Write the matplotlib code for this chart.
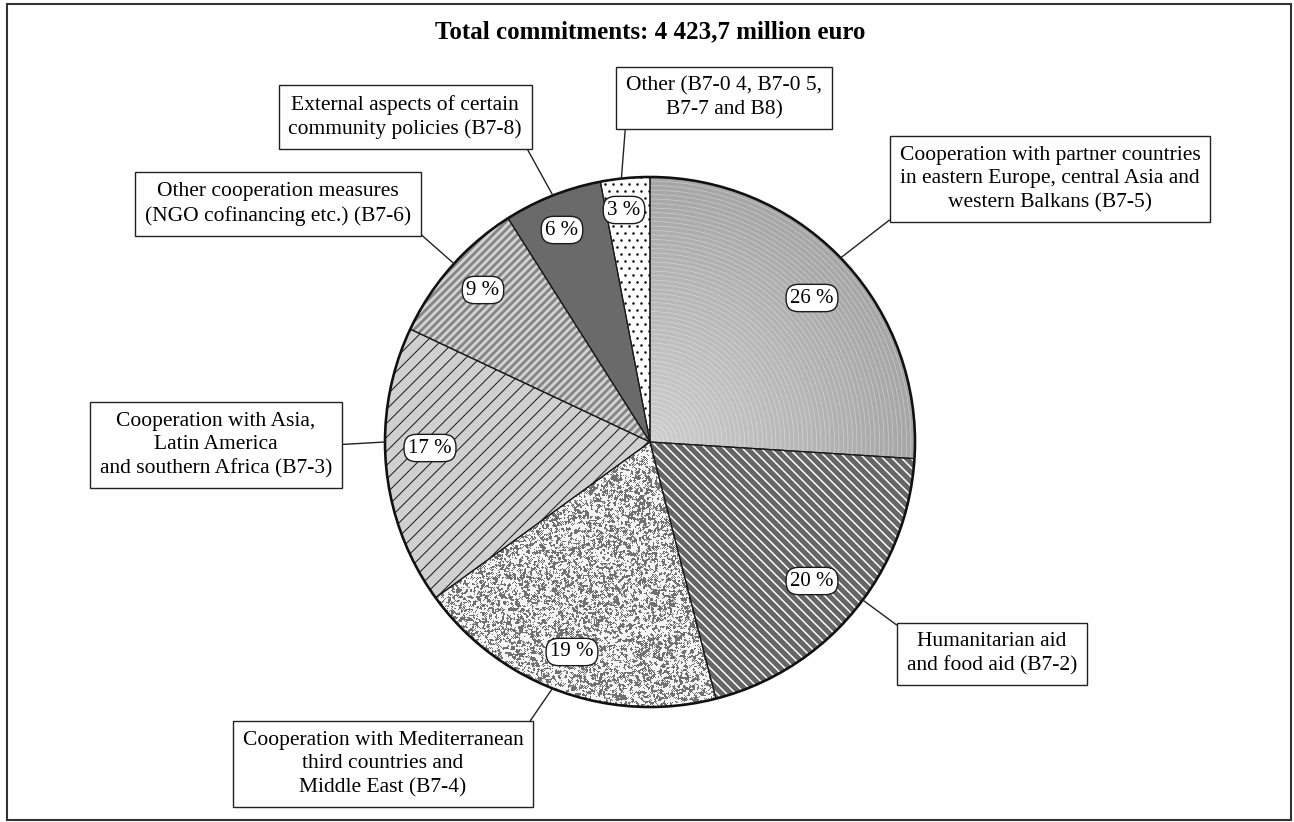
import numpy as np
import matplotlib.pyplot as plt
from matplotlib.patches import Wedge, Circle, Arc, Rectangle
from matplotlib.collections import LineCollection

plt.rcParams["font.family"] = ["Liberation Serif", "DejaVu Serif"]

TITLE = "Total commitments: 4 423,7 million euro"

# shares in %, clockwise from the top
SHARES = [26, 20, 19, 17, 9, 6, 3]
LABELS = [
    "Cooperation with partner countries\nin eastern Europe, central Asia and\nwestern Balkans (B7-5)",
    "Humanitarian aid\nand food aid (B7-2)",
    "Cooperation with Mediterranean\nthird countries and\nMiddle East (B7-4)",
    "Cooperation with Asia,\nLatin America\nand southern Africa (B7-3)",
    "Other cooperation measures\n(NGO cofinancing etc.) (B7-6)",
    "External aspects of certain\ncommunity policies (B7-8)",
    "Other (B7-0 4, B7-0 5,\nB7-7 and B8)",
]

# layout (pixel space, y downwards)
W, H = 1294, 822
CX, CY, R = 650, 442, 265
PCT_POS = [(812, 298), (812, 581), (572, 652), (430, 448), (483, 290), (562, 230), (624, 210)]
BOX_POS = [(1050, 179), (992, 654), (383, 764), (216, 445), (278, 204), (405, 117), (724, 98)]
LEADER_ANGLE = [44, -36.6, -111.6, 180, 137.7, 111.5, 96.2]
LEADER_FROM = [(0, 0), (0, 1), (1, 1), (1, 0.5), (1, 0), (1, 0), (0, 0)]
BASE_COLORS = ["#bdbdbd", "#666666", "#ffffff", "#d0d0d0", "#d3d3d3", "#6a6a6a", "#ffffff"]
PX = 0.72  # points per pixel at dpi 100


def add_stripes(ax, wedge, direction, spacing, color, width_px):
    # parallel lines over the pie, clipped to one wedge
    d = np.array(direction, dtype=float)
    d /= np.linalg.norm(d)
    n = np.array([-d[1], d[0]])
    segs = []
    for k in np.arange(-R * 1.5, R * 1.5, spacing):
        c = np.array([CX, CY]) + n * k
        segs.append([c - d * R * 1.5, c + d * R * 1.5])
    lc = LineCollection(segs, colors=color, linewidths=width_px * PX, zorder=2)
    ax.add_collection(lc)
    lc.set_clip_path(wedge)


def add_dots(ax, wedge, step_x, step_y, **kw):
    xs, ys = [], []
    for j, y in enumerate(np.arange(CY - R, CY + R, step_y)):
        off = step_x / 2 if j % 2 else 0
        for x in np.arange(CX - R + off, CX + R, step_x):
            xs.append(x)
            ys.append(y)
    sc = ax.scatter(xs, ys, zorder=2, **kw)
    sc.set_clip_path(wedge)


def add_speckle(ax, wedge):
    # fine grey squiggle texture from a fixed hash pattern, lightly blurred and thresholded
    yy, xx = np.mgrid[0:2 * R, 0:2 * R].astype(float)
    h = np.sin(xx * 12.9898 + yy * 78.233) * 43758.5453
    h = h - np.floor(h)
    blur = h.copy()
    for dx, dy in ((1, 0), (-1, 0), (0, 1), (0, -1)):
        blur += np.roll(np.roll(h, dx, axis=1), dy, axis=0)
    blur /= 5
    tex = np.where(blur > 0.53, 0.44, 0.96)
    im = ax.imshow(tex, cmap="gray", vmin=0, vmax=1, interpolation="nearest",
                   extent=(CX - R, CX + R, CY + R, CY - R), zorder=2)
    im.set_clip_path(wedge)


fig = plt.figure(figsize=(W / 100, H / 100), dpi=100)
ax = fig.add_axes([0, 0, 1, 1])

wedges, _ = ax.pie(
    SHARES,
    radius=R,
    center=(CX, CY),
    startangle=-90,
    counterclock=True,
    colors=BASE_COLORS,
    wedgeprops={"linewidth": 0},
    frame=False,
)

# 26 %: radial grey gradient with thin white rings
w0 = wedges[0]
for r in np.linspace(R, 3, 70):
    level = 0.81 - 0.16 * (r / R)
    ax.add_patch(Wedge((CX, CY), r, w0.theta1, w0.theta2, facecolor=str(level), linewidth=0, zorder=2))
for r in np.arange(4.5, R, 4.5):
    ax.add_patch(Arc((CX, CY), 2 * r, 2 * r, theta1=w0.theta1, theta2=w0.theta2,
                     color="white", linewidth=0.4, alpha=0.5, zorder=3))

# 20 %: dark grey with white "\" lines
add_stripes(ax, wedges[1], (1, 1), 6.6, "white", 1.5)

# 19 %: grey squiggle texture
add_speckle(ax, wedges[2])

# 17 %: light grey with black "/" lines
add_stripes(ax, wedges[3], (1, -1), 9.9, "#1a1a1a", 1.0)

# 9 %: light grey with mid grey "/" stripes
add_stripes(ax, wedges[4], (1, -1), 5.6, "#858585", 2.8)

# 3 %: black dots on white
add_dots(ax, wedges[6], 8, 7, s=3.4, color="#111111", linewidths=0)

# slice borders and outer rim
for w in wedges:
    ax.add_patch(Wedge((CX, CY), R, w.theta1, w.theta2, facecolor="none",
                       edgecolor="#1a1a1a", linewidth=1.2 * PX, zorder=4))
ax.add_patch(Circle((CX, CY), R, fill=False, edgecolor="#111111", linewidth=2.6 * PX, zorder=5))

# percentage tags
for value, (x, y) in zip(SHARES, PCT_POS):
    ax.text(x, y, f"{value} %", ha="center", va="center", fontsize=15, zorder=6,
            bbox={"boxstyle": "round,pad=0.2,rounding_size=0.6", "facecolor": "white",
                  "edgecolor": "#1a1a1a", "linewidth": 1.0})

# category boxes with leader lines
for label, (bx, by), ang, rel in zip(LABELS, BOX_POS, LEADER_ANGLE, LEADER_FROM):
    a = np.radians(ang)
    edge = (CX + R * np.cos(a), CY - R * np.sin(a))
    ax.annotate(
        label,
        xy=edge,
        xytext=(bx, by),
        ha="center",
        va="center",
        multialignment="center",
        fontsize=15.5,
        linespacing=1.32,
        zorder=6,
        bbox={"boxstyle": "square,pad=0.45", "facecolor": "white", "edgecolor": "#222222", "linewidth": 1.0},
        arrowprops={"arrowstyle": "-", "color": "#222222", "linewidth": 1.0,
                    "shrinkA": 0, "shrinkB": 0, "relpos": rel},
    )

ax.text(650, 32, TITLE, ha="center", va="center", fontsize=18, fontweight="bold")
ax.add_patch(Rectangle((7, 4), 1284, 816, fill=False, edgecolor="#333333", linewidth=1.5, zorder=7))

ax.set_xlim(0, W)
ax.set_ylim(H, 0)
ax.set_aspect("equal")
ax.axis("off")

fig.savefig("out.png", dpi=100)
